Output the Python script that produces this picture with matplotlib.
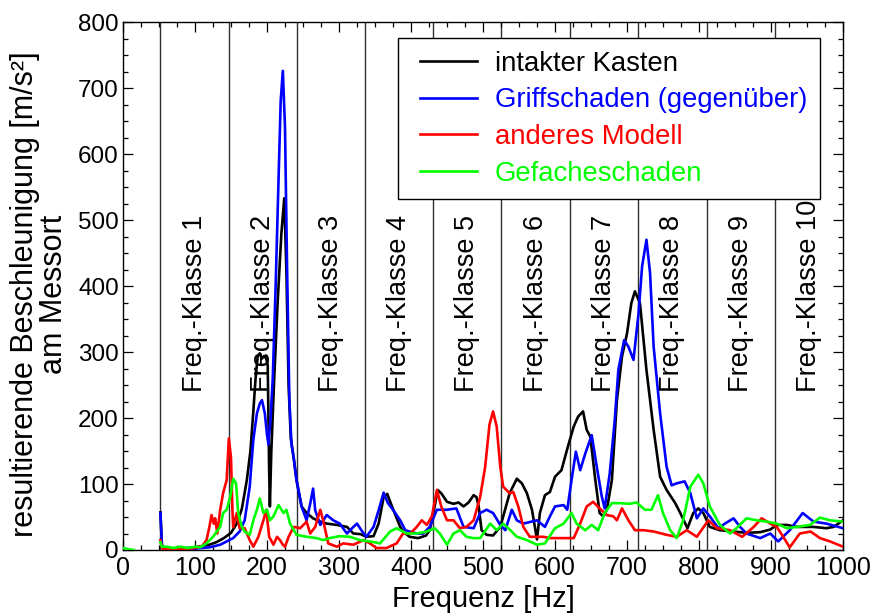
import matplotlib
matplotlib.use("Agg")
import matplotlib.pyplot as plt
from matplotlib.ticker import MultipleLocator
from matplotlib import font_manager
from matplotlib.legend_handler import HandlerLine2D

# ---------------- data ----------------
class_edges = [52, 147, 241, 336, 431, 525, 621, 715, 811, 905, 1000]
class_labels = ["Freq.-Klasse %d" % i for i in range(1, 11)]
class_label_y = 240

series_names = ["intakter Kasten", "Griffschaden (gegenüber)", "anderes Modell", "Gefacheschaden"]
series_colors = ["#000000", "#0000ff", "#ff0000", "#00ff00"]

f_black = [52, 54, 56, 60, 70, 80, 90, 100, 110, 120, 130, 140, 150, 158, 165, 172, 177, 181, 184, 187,
           190, 193, 196, 199, 201, 203, 204, 206, 210, 215, 220, 224, 227, 230, 233, 237, 241, 248, 255,
           264, 274, 283, 297, 311, 320, 330, 338, 348, 355, 362, 367, 375, 385, 389, 398, 410, 421, 426,
           431, 437, 442, 450, 459, 466, 473, 480, 487, 491, 494, 498, 505, 514, 524, 537, 547, 554, 561,
           568, 575, 579, 586, 593, 600, 609, 618, 626, 632, 639, 644, 649, 656, 662, 667, 672, 679, 686,
           693, 700, 706, 711, 718, 727, 737, 746, 755, 767, 774, 784, 792, 799, 806, 815, 829, 848, 866,
           885, 899, 908, 922, 936, 959, 977, 987, 1000]
v_black = [57, 8, 3, 2, 1, 2, 3, 4, 6, 8, 12, 18, 26, 40, 62, 106, 150, 210, 258, 293,
           298, 290, 294, 290, 280, 120, 66, 150, 260, 380, 480, 533, 420, 250, 170, 140, 106, 66, 56,
           48, 43, 40, 38, 35, 25, 24, 20, 21, 40, 80, 85, 62, 35, 28, 20, 18, 22, 30,
           55, 91, 86, 73, 70, 72, 66, 72, 83, 80, 66, 30, 23, 22, 35, 86, 108, 101, 86,
           61, 16, 56, 83, 88, 111, 121, 157, 187, 202, 210, 182, 172, 106, 56, 51, 61, 106, 227,
           293, 328, 374, 392, 374, 273, 182, 111, 91, 71, 56, 33, 56, 63, 56, 35, 30, 28, 26,
           27, 31, 38, 38, 35, 35, 33, 35, 45]

f_blue = [52, 54, 56, 60, 70, 80, 90, 100, 110, 120, 135, 153, 162, 169, 176, 181, 186, 190, 193, 197,
          200, 202, 205, 208, 212, 216, 219, 222, 225, 228, 231, 234, 237, 241, 248, 255, 260, 264, 267,
          274, 283, 292, 301, 311, 320, 325, 331, 338, 348, 355, 362, 368, 375, 385, 392, 398, 408, 417,
          426, 436, 450, 463, 473, 487, 496, 505, 514, 524, 531, 540, 547, 556, 575, 586, 593, 600, 612,
          617, 623, 629, 635, 642, 651, 658, 665, 669, 676, 683, 688, 696, 702, 709, 716, 721, 727, 732,
          737, 746, 755, 762, 769, 780, 788, 797, 806, 815, 827, 836, 848, 857, 866, 885, 899, 910, 926,
          944, 959, 977, 1000]
v_blue = [56, 8, 2, 1, 1, 1, 2, 2, 3, 4, 8, 18, 28, 45, 96, 167, 207, 222, 227, 207,
          175, 160, 200, 260, 400, 560, 680, 726, 640, 420, 230, 160, 140, 106, 66, 45, 70, 93, 60,
          38, 53, 45, 40, 25, 35, 40, 30, 20, 35, 60, 87, 71, 61, 45, 30, 28, 25, 25,
          35, 61, 61, 63, 35, 33, 56, 61, 56, 38, 30, 61, 45, 40, 45, 35, 51, 66, 68,
          61, 106, 149, 121, 146, 174, 126, 81, 63, 116, 197, 273, 318, 308, 288, 358, 430, 470, 420,
          308, 207, 126, 98, 101, 104, 86, 48, 63, 51, 33, 40, 48, 35, 25, 18, 25, 13, 30,
          56, 43, 40, 33]

f_red = [52, 54, 56, 70, 90, 100, 110, 116, 120, 123, 126, 128, 131, 135, 139, 144, 147, 150, 152, 153,
         158, 162, 169, 176, 181, 188, 195, 199, 203, 209, 214, 218, 222, 225, 230, 237, 246, 255, 260,
         267, 274, 278, 285, 297, 306, 320, 334, 343, 352, 366, 380, 389, 399, 408, 415, 422, 429, 436,
         442, 450, 459, 468, 477, 487, 496, 503, 509, 514, 519, 524, 528, 537, 542, 549, 556, 565, 575,
         584, 593, 607, 616, 626, 635, 644, 653, 662, 672, 681, 686, 693, 702, 711, 723, 737, 755, 769,
         783, 797, 813, 825, 843, 860, 876, 887, 899, 908, 917, 926, 940, 955, 968, 982, 1000]
v_red = [15, 4, 1, 1, 2, 3, 6, 15, 35, 53, 40, 48, 25, 61, 86, 106, 169, 140, 60, 35,
         56, 33, 33, 15, 5, 20, 45, 61, 20, 8, 20, 15, 8, 5, 20, 35, 33, 43, 25,
         35, 61, 45, 10, 5, 10, 8, 15, 10, 3, 3, 10, 25, 25, 35, 45, 38, 51, 91,
         66, 45, 45, 33, 35, 45, 80, 126, 190, 210, 187, 126, 96, 86, 88, 66, 35, 20, 20,
         20, 18, 18, 18, 18, 40, 66, 73, 63, 53, 51, 45, 63, 45, 30, 30, 28, 23, 20,
         30, 20, 45, 33, 30, 20, 35, 48, 40, 35, 20, 4, 25, 28, 18, 13, 5]

nan = float("nan")
f_green = [0, 8, 15, 30, 52, 54, 60, 70, 80, 90, 100, 107, 116, 125, 135, 139, 144, 149, 153, 157,
           160, 165, 169, 176, 181, 186, 190, 195, 200, 204, 209, 216, 223, 227, 232, 241, 255, 269, 278,
           287, 301, 315, 329, 343, 357, 371, 380, 394, 408, 422, 433, 440, 450, 459, 468, 477, 487, 496,
           510, 519, 528, 538, 547, 561, 575, 586, 600, 612, 623, 630, 642, 651, 660, 669, 679, 690, 704,
           713, 725, 734, 743, 750, 760, 769, 778, 788, 799, 806, 815, 829, 843, 852, 866, 880, 894, 908,
           922, 936, 954, 968, 982, 1000]
v_green = [3, 1, 0, nan, 12, 5, 5, 3, 5, 3, 5, 4, 10, 20, 35, 56, 61, 81, 108, 101,
           56, 35, 28, 23, 45, 61, 78, 56, 61, 45, 51, 68, 56, 61, 40, 23, 20, 18, 15,
           18, 21, 20, 15, 13, 10, 28, 33, 25, 25, 28, 33, 25, 8, 25, 30, 20, 18, 18,
           40, 30, 40, 30, 20, 15, 8, 10, 33, 40, 56, 40, 30, 38, 30, 56, 71, 71, 70,
           72, 61, 61, 83, 56, 30, 18, 45, 96, 114, 101, 66, 38, 25, 33, 48, 45, 43, 40,
           33, 35, 38, 49, 45, 43]

series_f = [f_black, f_blue, f_red, f_green]
series_v = [v_black, v_blue, v_red, v_green]

# ---------------- fonts ----------------
names = {f.name for f in font_manager.fontManager.ttflist}
base_font = "Liberation Sans" if "Liberation Sans" in names else "DejaVu Sans"
narrow_font = "Liberation Sans Narrow" if "Liberation Sans Narrow" in names else base_font
plt.rcParams["font.family"] = [base_font, "DejaVu Sans"]
class_fs = 24 if narrow_font != base_font else 19.5

# ---------------- figure ----------------
fig = plt.figure(figsize=(8.75, 6.16), dpi=100)
ax = fig.add_axes([123 / 875, 1 - 550 / 616, 720 / 875, 528 / 616])

for x in class_edges[:-1]:
    ax.axvline(x, color="#303030", lw=1.0, zorder=1)
for i, lab in enumerate(class_labels):
    xc = 0.5 * (class_edges[i] + class_edges[i + 1])
    ax.text(xc, class_label_y, lab, rotation=90, ha="center", va="bottom",
            fontsize=class_fs, family=[narrow_font, "DejaVu Sans"], zorder=2)

handles = []
for f, v, c, n in zip(series_f, series_v, series_colors, series_names):
    h, = ax.plot(f, v, color=c, lw=1.9, label=n, zorder=3, solid_joinstyle="round")
    handles.append(h)

ax.set_xlim(0, 1000)
ax.set_ylim(0, 800)
ax.xaxis.set_major_locator(MultipleLocator(100))
ax.xaxis.set_minor_locator(MultipleLocator(25))
ax.yaxis.set_major_locator(MultipleLocator(100))
ax.yaxis.set_minor_locator(MultipleLocator(25))
ax.tick_params(which="both", direction="in", top=True, right=True, width=0.9, colors="black")
ax.tick_params(which="major", length=7, pad=4)
ax.tick_params(which="minor", length=3.5)
ax.tick_params(axis="x", labelsize=18)
ax.tick_params(axis="y", labelsize=17.5, pad=3)
for s in ax.spines.values():
    s.set_linewidth(1.0)

ax.set_xlabel("Frequenz [Hz]", fontsize=21, labelpad=4)
ax.set_ylabel("resultierende Beschleunigung [m/s²]\nam Messort", fontsize=22,
              linespacing=0.95, labelpad=4)
ax.yaxis.set_label_coords(-0.075, 0.485)

leg_fs = 19.8
leg = ax.legend(handles=handles, loc="upper right", bbox_to_anchor=(0.968, 0.970),
                fontsize=leg_fs, frameon=True, fancybox=False, framealpha=1, edgecolor="black",
                handlelength=2.39, handletextpad=0.65, labelspacing=0.385, borderpad=0.47,
                borderaxespad=0,
                handler_map={h: HandlerLine2D(xpad=0.31) for h in handles})
leg.get_frame().set_linewidth(1.0)
for t, c in zip(leg.get_texts(), series_colors):
    t.set_color(c)
leg.set_zorder(5)

fig.savefig("out.png", dpi=100)
